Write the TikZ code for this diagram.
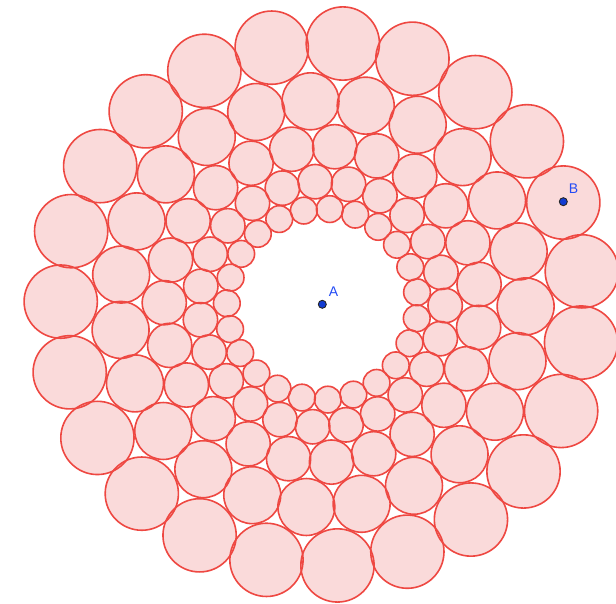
\documentclass[tikz,border=0pt]{standalone}
\usepackage{fontspec}
\setmainfont{Liberation Sans}
\definecolor{ringfill}{RGB}{250,218,218}
\definecolor{ringline}{RGB}{238,72,66}
\definecolor{ptfill}{RGB}{18,60,210}
\definecolor{labelblue}{RGB}{35,75,245}
\begin{document}
\begin{tikzpicture}[x=1pt,y=-1pt,
  ringcircle/.style={fill=ringfill},
  ringedge/.style={draw=ringline,line width=1.6pt},
  ptdot/.style={circle,fill=ptfill,draw=black!85,line width=0.9pt,inner sep=0pt,minimum size=8pt},
  ptlabel/.style={text=labelblue,inner sep=0pt,font=\fontsize{14}{14}\selectfont}]
\useasboundingbox (0,0) rectangle (616,604);
% fills first
\foreach \k in {0,...,4}{
  \pgfmathsetmacro{\myrad}{261.6*0.7773^\k}
  \pgfmathsetmacro{\myoff}{85.5+7.8261*mod(\k,2)}
  \foreach \j in {0,...,22}{
    \pgfmathsetmacro{\myth}{\myoff+15.6522*\j}
    \fill[ringcircle] ({322.3+\myrad*cos(\myth)},{304.3-\myrad*sin(\myth)}) circle[radius=0.14*\myrad];
  }
}
% outlines
\foreach \k in {0,...,4}{
  \pgfmathsetmacro{\myrad}{261.6*0.7773^\k}
  \pgfmathsetmacro{\myoff}{85.5+7.8261*mod(\k,2)}
  \foreach \j in {0,...,22}{
    \pgfmathsetmacro{\myth}{\myoff+15.6522*\j}
    \draw[ringedge] ({322.3+\myrad*cos(\myth)},{304.3-\myrad*sin(\myth)}) circle[radius=0.14*\myrad];
  }
}
\node[ptdot] (A) at (322.3,304.3) {};
\node[ptlabel] (Alabel) at (333.5,291.5) {A};
\node[ptdot] (B) at (563.3,201.7) {};
\node[ptlabel] (Blabel) at (573.5,189) {B};
\end{tikzpicture}
\end{document}
